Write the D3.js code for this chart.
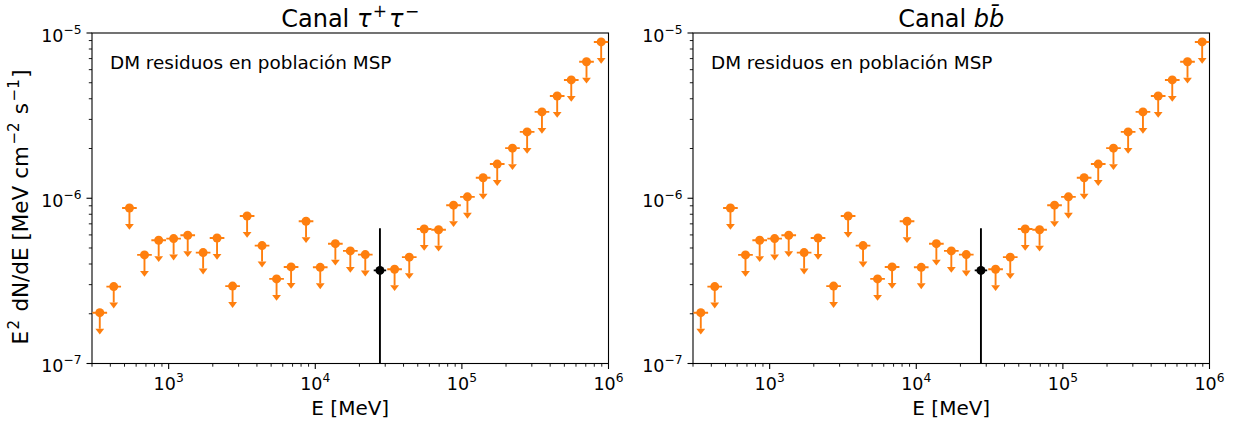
<!DOCTYPE html>
<html>
<head>
<meta charset="utf-8">
<script src="https://cdn.jsdelivr.net/npm/d3@7"></script>
<style>
  html, body { margin: 0; padding: 0; background: #fff; }
  svg { display: block; font-family: "DejaVu Sans", sans-serif; }
</style>
</head>
<body>
<svg id="chart" width="1244" height="423"></svg>
<script>
// ---------------- data ----------------
// Energy bin centres (MeV) of the upper limits
const energies = [339, 422, 540, 684, 855, 1081, 1349, 1718, 2138, 2729,
                  3428, 4335, 5445, 6839, 8650, 10810, 13710, 17340, 21930, 27610,
                  34750, 43750, 55340, 69340, 87700, 109100, 139600, 174200, 221300, 278600,
                  351600, 446700, 557200, 707900, 891300];
// E^2 dN/dE upper limits (MeV cm^-2 s^-1); null where a detection is plotted instead
const upperLimits = [2.03e-7, 2.92e-7, 8.73e-7, 4.54e-7, 5.57e-7, 5.70e-7, 5.97e-7, 4.69e-7, 5.75e-7, 2.94e-7,
                     7.81e-7, 5.17e-7, 3.25e-7, 3.84e-7, 7.26e-7, 3.82e-7, 5.31e-7, 4.80e-7, 4.56e-7, null,
                     3.72e-7, 4.40e-7, 6.52e-7, 6.45e-7, 9.08e-7, 1.02e-6, 1.33e-6, 1.61e-6, 2.01e-6, 2.52e-6,
                     3.33e-6, 4.16e-6, 5.20e-6, 6.70e-6, 8.83e-6];
// Detected bin (black point)
const detectionE = [27610];
const detectionValue = [3.66e-7];
const detectionHigh = [6.59e-7];
const detectionLow = [1e-9];
// Axis ticks
const xMajorTicks = [1e3, 1e4, 1e5, 1e6];
const xMajorExp = ["3", "4", "5", "6"];
const yMajorTicks = [1e-7, 1e-6, 1e-5];
const yMajorExp = ["\u22127", "\u22126", "\u22125"];
const panelTitles = ["tau", "bb"];
const annotation = "DM residuos en población MSP";
const xLabel = "E [MeV]";

// ---------------- layout ----------------
const plotTop = 33, plotBottom = 363.5;
const panels = [{x0: 92, x1: 608.5, ylab: true}, {x0: 693, x1: 1209.5, ylab: false}];
const orange = "#ff7f0e";
const halfBinDex = 0.05;
const arrowFactor = 0.8;
const tickFs = 17.5;

const svg = d3.select("#chart");

const y = d3.scaleLog().domain([1e-7, 1e-5]).range([plotBottom, plotTop]);

function minorTicks(lo, hi) {
  const out = [];
  for (let e = Math.floor(Math.log10(lo)); e <= Math.ceil(Math.log10(hi)); e++) {
    for (let m = 2; m <= 9; m++) {
      const v = m * Math.pow(10, e);
      if (v >= lo * 0.999 && v <= hi * 1.001) out.push(v);
    }
  }
  return out;
}

function addSup(textSel, base, exp, fs) {
  textSel.append("tspan").text(base);
  textSel.append("tspan").attr("font-size", fs * 0.7).attr("dy", -fs * 0.45).text(exp);
}

panels.forEach((p, pi) => {
  const x = d3.scaleLog().domain([300, 1e6]).range([p.x0, p.x1]);
  const g = svg.append("g");
  const clipId = "clip" + pi;
  svg.append("clipPath").attr("id", clipId).append("rect")
    .attr("x", p.x0).attr("y", plotTop).attr("width", p.x1 - p.x0).attr("height", plotBottom - plotTop);

  const tickColor = "#000";
  g.selectAll(".xmin").data(minorTicks(300, 1e6)).enter().append("line")
    .attr("x1", d => x(d)).attr("x2", d => x(d))
    .attr("y1", plotBottom).attr("y2", plotBottom + 3.2)
    .attr("stroke", tickColor).attr("stroke-width", 0.9);
  g.selectAll(".xmaj").data(xMajorTicks).enter().append("line")
    .attr("x1", d => x(d)).attr("x2", d => x(d))
    .attr("y1", plotBottom).attr("y2", plotBottom + 5.5)
    .attr("stroke", tickColor).attr("stroke-width", 1.1);
  xMajorTicks.forEach((t, i) => {
    const tx = g.append("text").attr("x", x(t)).attr("y", 389.5)
      .attr("text-anchor", "middle").attr("font-size", tickFs).attr("fill", "#000");
    addSup(tx, "10", xMajorExp[i], tickFs);
  });
  g.selectAll(".ymin").data(minorTicks(1e-7, 1e-5)).enter().append("line")
    .attr("x1", p.x0).attr("x2", p.x0 - 3.2)
    .attr("y1", d => y(d)).attr("y2", d => y(d))
    .attr("stroke", tickColor).attr("stroke-width", 0.9);
  g.selectAll(".ymaj").data(yMajorTicks).enter().append("line")
    .attr("x1", p.x0).attr("x2", p.x0 - 5.5)
    .attr("y1", d => y(d)).attr("y2", d => y(d))
    .attr("stroke", tickColor).attr("stroke-width", 1.1);
  yMajorTicks.forEach((t, i) => {
    const ty = g.append("text").attr("x", p.x0 - 10.5).attr("y", y(t) + 8.5)
      .attr("text-anchor", "end").attr("font-size", tickFs).attr("fill", "#000");
    addSup(ty, "10", yMajorExp[i], tickFs);
  });

  g.append("rect").attr("x", p.x0).attr("y", plotTop)
    .attr("width", p.x1 - p.x0).attr("height", plotBottom - plotTop)
    .attr("fill", "none").attr("stroke", "#000").attr("stroke-width", 1.1);

  const ul = energies.map((e, i) => ({e, v: upperLimits[i]})).filter(d => d.v !== null);
  const m = g.append("g").attr("clip-path", `url(#${clipId})`);
  m.selectAll(".hb").data(ul).enter().append("line")
    .attr("x1", d => x(d.e / Math.pow(10, halfBinDex)))
    .attr("x2", d => x(d.e * Math.pow(10, halfBinDex)))
    .attr("y1", d => y(d.v)).attr("y2", d => y(d.v))
    .attr("stroke", orange).attr("stroke-width", 1.9);
  m.selectAll(".vb").data(ul).enter().append("line")
    .attr("x1", d => x(d.e)).attr("x2", d => x(d.e))
    .attr("y1", d => y(d.v)).attr("y2", d => y(d.v * arrowFactor))
    .attr("stroke", orange).attr("stroke-width", 1.9);
  m.selectAll(".ah").data(ul).enter().append("path")
    .attr("d", d => {
      const cx = x(d.e), by = y(d.v * arrowFactor);
      return `M${cx - 4.4},${by} L${cx + 4.4},${by} L${cx},${by + 5.8} Z`;
    })
    .attr("fill", orange);
  m.selectAll(".pt").data(ul).enter().append("circle")
    .attr("cx", d => x(d.e)).attr("cy", d => y(d.v)).attr("r", 4.5)
    .attr("fill", orange);

  detectionE.forEach((e, i) => {
    m.append("line")
      .attr("x1", x(e)).attr("x2", x(e))
      .attr("y1", y(detectionHigh[i])).attr("y2", plotBottom + 20)
      .attr("stroke", "#000").attr("stroke-width", 1.9);
    m.append("line")
      .attr("x1", x(e / Math.pow(10, halfBinDex * 0.85))).attr("x2", x(e * Math.pow(10, halfBinDex * 0.85)))
      .attr("y1", y(detectionValue[i])).attr("y2", y(detectionValue[i]))
      .attr("stroke", "#000").attr("stroke-width", 1.9);
    m.append("circle").attr("cx", x(e)).attr("cy", y(detectionValue[i])).attr("r", 4.5).attr("fill", "#000");
  });

  g.append("text").attr("x", p.x0 + 18).attr("y", 68.5)
    .attr("font-size", 18.4).attr("fill", "#000").text(annotation);

  g.append("text").attr("x", (p.x0 + p.x1) / 2).attr("y", 415)
    .attr("text-anchor", "middle").attr("font-size", 20).attr("fill", "#000").text(xLabel);

  const cx = (p.x0 + p.x1) / 2;
  const tt = g.append("text").attr("x", cx).attr("y", 27)
    .attr("text-anchor", "middle").attr("font-size", 24).attr("fill", "#000");
  if (panelTitles[pi] === "tau") {
    tt.append("tspan").text("Canal ");
    tt.append("tspan").attr("font-style", "italic").text("\u03c4");
    tt.append("tspan").attr("font-size", 17).attr("dy", -10).attr("dx", 1.5).text("+");
    tt.append("tspan").attr("font-style", "italic").attr("dy", 10).attr("dx", 2).text("\u03c4");
    tt.append("tspan").attr("font-size", 17).attr("dy", -10).attr("dx", 1.5).text("\u2212");
  } else {
    tt.append("tspan").text("Canal ");
    tt.append("tspan").attr("font-style", "italic").text("b");
    tt.append("tspan").attr("font-style", "italic").text("b\u0304");
  }

  if (p.ylab) {
    const yl = g.append("text").attr("transform", `translate(28,${207}) rotate(-90)`)
      .attr("text-anchor", "middle").attr("font-size", 21.5).attr("fill", "#000");
    yl.append("tspan").text("E");
    yl.append("tspan").attr("font-size", 15).attr("dy", -9).attr("dx", 1.5).text("2");
    yl.append("tspan").attr("dy", 9).attr("dx", 1.5).text(" dN/dE [MeV cm");
    yl.append("tspan").attr("font-size", 15).attr("dy", -9).attr("dx", 1.5).text("\u22122");
    yl.append("tspan").attr("dy", 9).attr("dx", 1.5).text(" s");
    yl.append("tspan").attr("font-size", 15).attr("dy", -9).attr("dx", 1.5).text("\u22121");
    yl.append("tspan").attr("dy", 9).attr("dx", 1.5).text("]");
  }
});
</script>
</body>
</html>
